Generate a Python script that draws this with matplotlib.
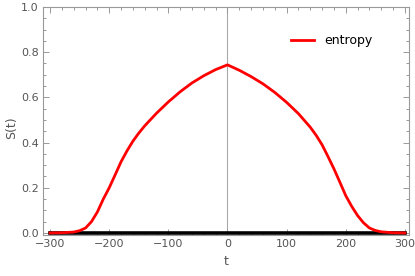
import matplotlib.pyplot as plt
from matplotlib.ticker import MultipleLocator

# entropy curve
t = [-300, -280, -260, -250, -240, -230, -220, -210, -200, -190, -180, -170, -160,
     -150, -140, -120, -100, -80, -60, -40, -20, 0, 20, 40, 60, 80, 100, 120, 140,
     150, 160, 170, 180, 190, 200, 210, 220, 230, 240, 250, 260, 280, 300]
s = [0.0, 0.001, 0.004, 0.01, 0.022, 0.05, 0.093, 0.15, 0.2, 0.257, 0.315, 0.363, 0.406,
     0.442, 0.474, 0.53, 0.58, 0.625, 0.664, 0.696, 0.723, 0.744, 0.72, 0.692, 0.66,
     0.622, 0.578, 0.528, 0.468, 0.432, 0.39, 0.338, 0.284, 0.225, 0.165, 0.118, 0.077,
     0.045, 0.022, 0.011, 0.005, 0.001, 0.0]
zero_t = [-300, 300]
zero_s = [0, 0]

fig = plt.figure(figsize=(4.15, 2.76), dpi=100)
ax = fig.add_axes([0.1036, 0.1486, 0.882, 0.826])

ax.axvline(0, color='#aaaaaa', lw=0.8, zorder=1)
ax.plot(zero_t, zero_s, color='black', lw=2.6, zorder=2)
ax.plot(t, s, color='red', lw=2.0, label='entropy', zorder=3)

ax.set_xlim(-312, 307)
ax.set_ylim(-0.009, 1.0)
ax.xaxis.set_major_locator(MultipleLocator(100))
ax.xaxis.set_minor_locator(MultipleLocator(20))
ax.yaxis.set_major_locator(MultipleLocator(0.2))
ax.yaxis.set_minor_locator(MultipleLocator(0.05))
ax.yaxis.set_major_formatter(plt.FuncFormatter(lambda v, p: '%.1f' % v))
ax.xaxis.set_major_formatter(plt.FuncFormatter(lambda v, p: '\u2212%d' % -v if v < 0 else '%d' % v))

gray = '#999999'
for sp in ax.spines.values():
    sp.set_color(gray)
    sp.set_linewidth(0.8)
ax.tick_params(which='both', direction='in', top=True, right=True, color=gray,
               labelcolor='#555555', labelsize=8, width=0.7)
ax.tick_params(which='major', length=4, pad=3)
ax.tick_params(which='minor', length=2)

ax.set_xlabel('t', color='#555555', fontsize=9, labelpad=4)
ax.set_ylabel('S(t)', color='#555555', fontsize=9)
ax.yaxis.set_label_coords(-0.068, 0.47)

ax.legend(loc='upper right', bbox_to_anchor=(0.93, 0.93), frameon=False, fontsize=9,
          handlelength=1.8, handletextpad=0.8)

fig.savefig('out.png', dpi=100)
